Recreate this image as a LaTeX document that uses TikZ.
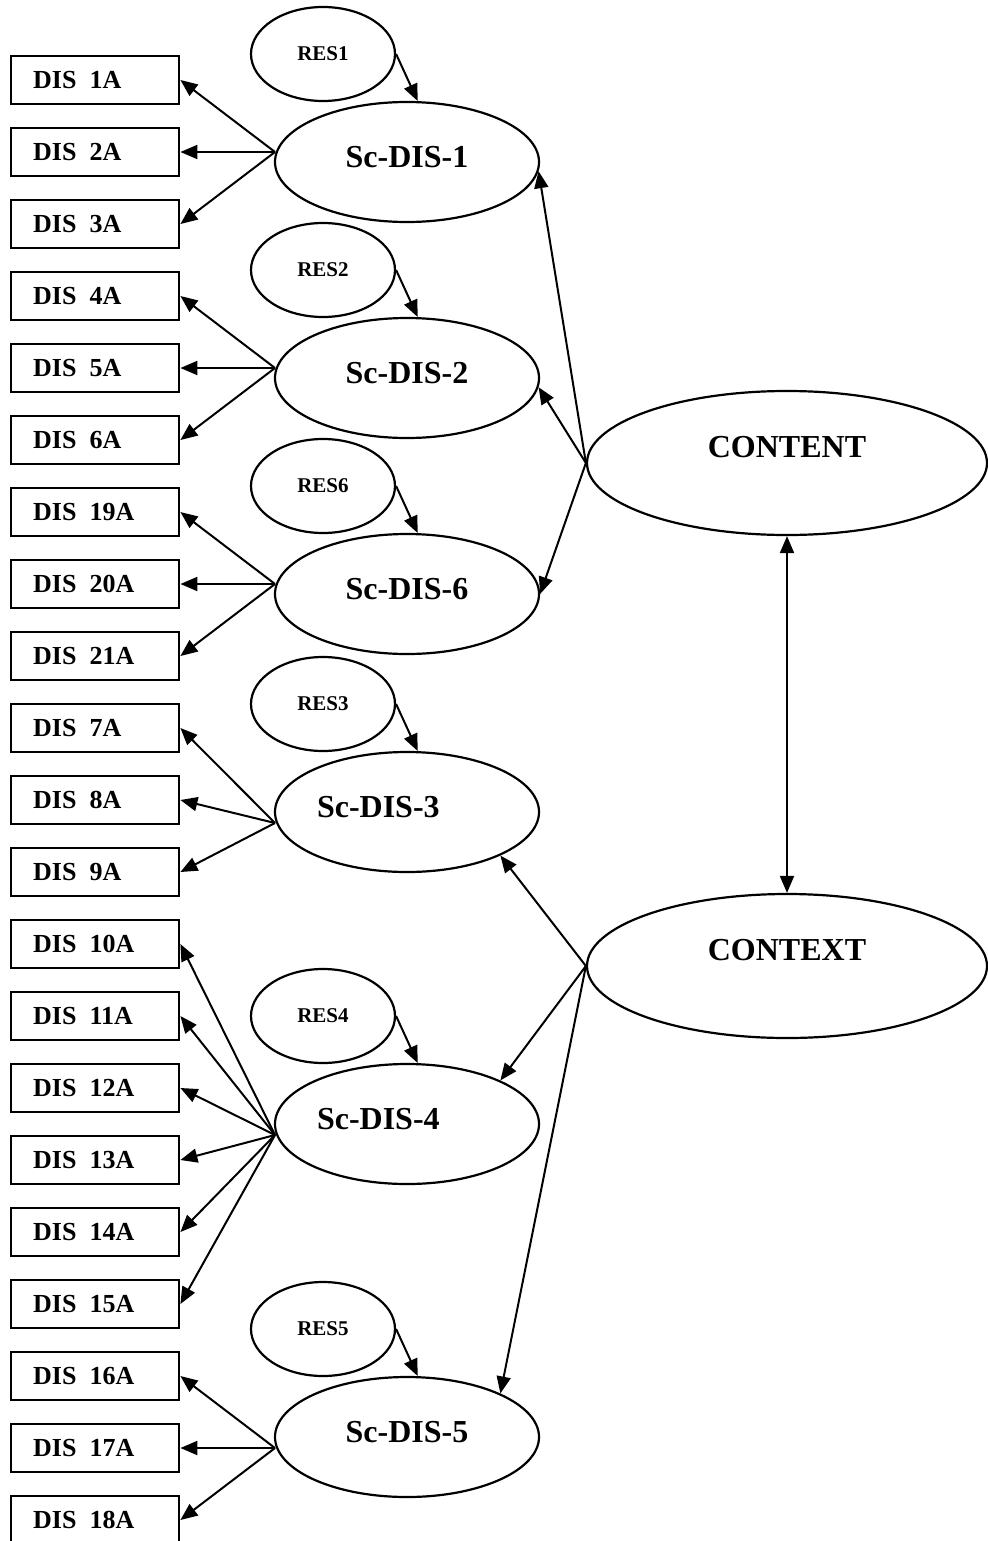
\documentclass[tikz,border=0pt]{standalone}
\usepackage{fontspec}
\setmainfont{Liberation Serif}
\usetikzlibrary{shapes.geometric,arrows.meta}

\begin{document}
\begin{tikzpicture}[x=0.5pt,y=-0.5pt,
      >={Triangle[length=8.5pt,width=7pt]},
      box/.style={draw,line width=1.2pt,text width=62pt,inner xsep=11pt,minimum height=24pt,align=left,font=\fontsize{13}{15}\selectfont\bfseries},
      factor/.style={draw,ellipse,line width=1.1pt,minimum width=132pt,minimum height=60pt,inner sep=0pt,text depth=5pt,font=\fontsize{16}{19}\selectfont\bfseries},
      res/.style={draw,ellipse,line width=1.1pt,minimum width=72pt,minimum height=47pt,inner sep=0pt,font=\fontsize{10.5}{12}\selectfont\bfseries},
      dim/.style={draw,ellipse,line width=1.1pt,minimum width=200pt,minimum height=72pt,inner sep=0pt,text depth=16pt,font=\fontsize{16}{19}\selectfont\bfseries},
      arrow/.style={->,line width=1pt}]
    \useasboundingbox (0,0) rectangle (988,1541);
    % indicator boxes
    \node[box,anchor=west] (dis1) at (10,80) {DIS~\,1A};
    \node[box,anchor=west] (dis2) at (10,152) {DIS~\,2A};
    \node[box,anchor=west] (dis3) at (10,224) {DIS~\,3A};
    \node[box,anchor=west] (dis4) at (10,296) {DIS~\,4A};
    \node[box,anchor=west] (dis5) at (10,368) {DIS~\,5A};
    \node[box,anchor=west] (dis6) at (10,440) {DIS~\,6A};
    \node[box,anchor=west] (dis19) at (10,512) {DIS~\,19A};
    \node[box,anchor=west] (dis20) at (10,584) {DIS~\,20A};
    \node[box,anchor=west] (dis21) at (10,656) {DIS~\,21A};
    \node[box,anchor=west] (dis7) at (10,728) {DIS~\,7A};
    \node[box,anchor=west] (dis8) at (10,800) {DIS~\,8A};
    \node[box,anchor=west] (dis9) at (10,872) {DIS~\,9A};
    \node[box,anchor=west] (dis10) at (10,944) {DIS~\,10A};
    \node[box,anchor=west] (dis11) at (10,1016) {DIS~\,11A};
    \node[box,anchor=west] (dis12) at (10,1088) {DIS~\,12A};
    \node[box,anchor=west] (dis13) at (10,1160) {DIS~\,13A};
    \node[box,anchor=west] (dis14) at (10,1232) {DIS~\,14A};
    \node[box,anchor=west] (dis15) at (10,1304) {DIS~\,15A};
    \node[box,anchor=west] (dis16) at (10,1376) {DIS~\,16A};
    \node[box,anchor=west] (dis17) at (10,1448) {DIS~\,17A};
    \node[box,anchor=west] (dis18) at (10,1520) {DIS~\,18A};
    % sub-scales and residuals
    \node[factor] (sc1) at (407,162) {Sc-DIS-1};
    \node[factor] (sc2) at (407,378) {Sc-DIS-2};
    \node[factor] (sc6) at (407,594) {Sc-DIS-6};
    \node[factor,text width=90pt,align=left] (sc3) at (407,812) {Sc-DIS-3};
    \node[factor,text width=90pt,align=left] (sc4) at (407,1124) {Sc-DIS-4};
    \node[factor] (sc5) at (407,1437) {Sc-DIS-5};
    \node[res] (res1) at (323,54) {RES1};
    \node[res] (res2) at (323,270) {RES2};
    \node[res] (res6) at (323,486) {RES6};
    \node[res] (res3) at (323,704) {RES3};
    \node[res] (res4) at (323,1016) {RES4};
    \node[res] (res5) at (323,1329) {RES5};
    \node[dim] (content) at (787,463) {CONTENT};
    \node[dim] (context) at (787,966) {CONTEXT};
    % fan points on the left of each sub-scale
    \coordinate (f1) at (275,152);
    \coordinate (f2) at (275,368);
    \coordinate (f6) at (275,584);
    \coordinate (f3) at (275,823);
    \coordinate (f4) at (275,1135);
    \coordinate (f5) at (275,1448);
    \draw[arrow] (f1)--(dis1.east);
    \draw[arrow] (f1)--(dis2.east);
    \draw[arrow] (f1)--(dis3.east);
    \draw[arrow] (f2)--(dis4.east);
    \draw[arrow] (f2)--(dis5.east);
    \draw[arrow] (f2)--(dis6.east);
    \draw[arrow] (f6)--(dis19.east);
    \draw[arrow] (f6)--(dis20.east);
    \draw[arrow] (f6)--(dis21.east);
    \draw[arrow] (f3)--(dis7.east);
    \draw[arrow] (f3)--(dis8.east);
    \draw[arrow] (f3)--(dis9.east);
    \draw[arrow] (f4)--(dis10.east);
    \draw[arrow] (f4)--(dis11.east);
    \draw[arrow] (f4)--(dis12.east);
    \draw[arrow] (f4)--(dis13.east);
    \draw[arrow] (f4)--(dis14.east);
    \draw[arrow] (f4)--(dis15.east);
    \draw[arrow] (f5)--(dis16.east);
    \draw[arrow] (f5)--(dis17.east);
    \draw[arrow] (f5)--(dis18.east);
    \draw[arrow] (res1.east)--(sc1.80);
    \draw[arrow] (res2.east)--(sc2.80);
    \draw[arrow] (res6.east)--(sc6.80);
    \draw[arrow] (res3.east)--(sc3.80);
    \draw[arrow] (res4.east)--(sc4.80);
    \draw[arrow] (res5.east)--(sc5.80);
    \draw[arrow] (content.west)--(sc1.-4);
    \draw[arrow] (content.west)--(sc2.-4);
    \draw[arrow] (content.west)--(sc6.east);
    \draw[arrow] (context.west)--(sc3.-25);
    \draw[arrow] (context.west)--(sc4.25);
    \draw[arrow] (context.west)--(sc5.25);
    \draw[arrow,<->] (content.south)--(context.north);
  \end{tikzpicture}
\end{document}
